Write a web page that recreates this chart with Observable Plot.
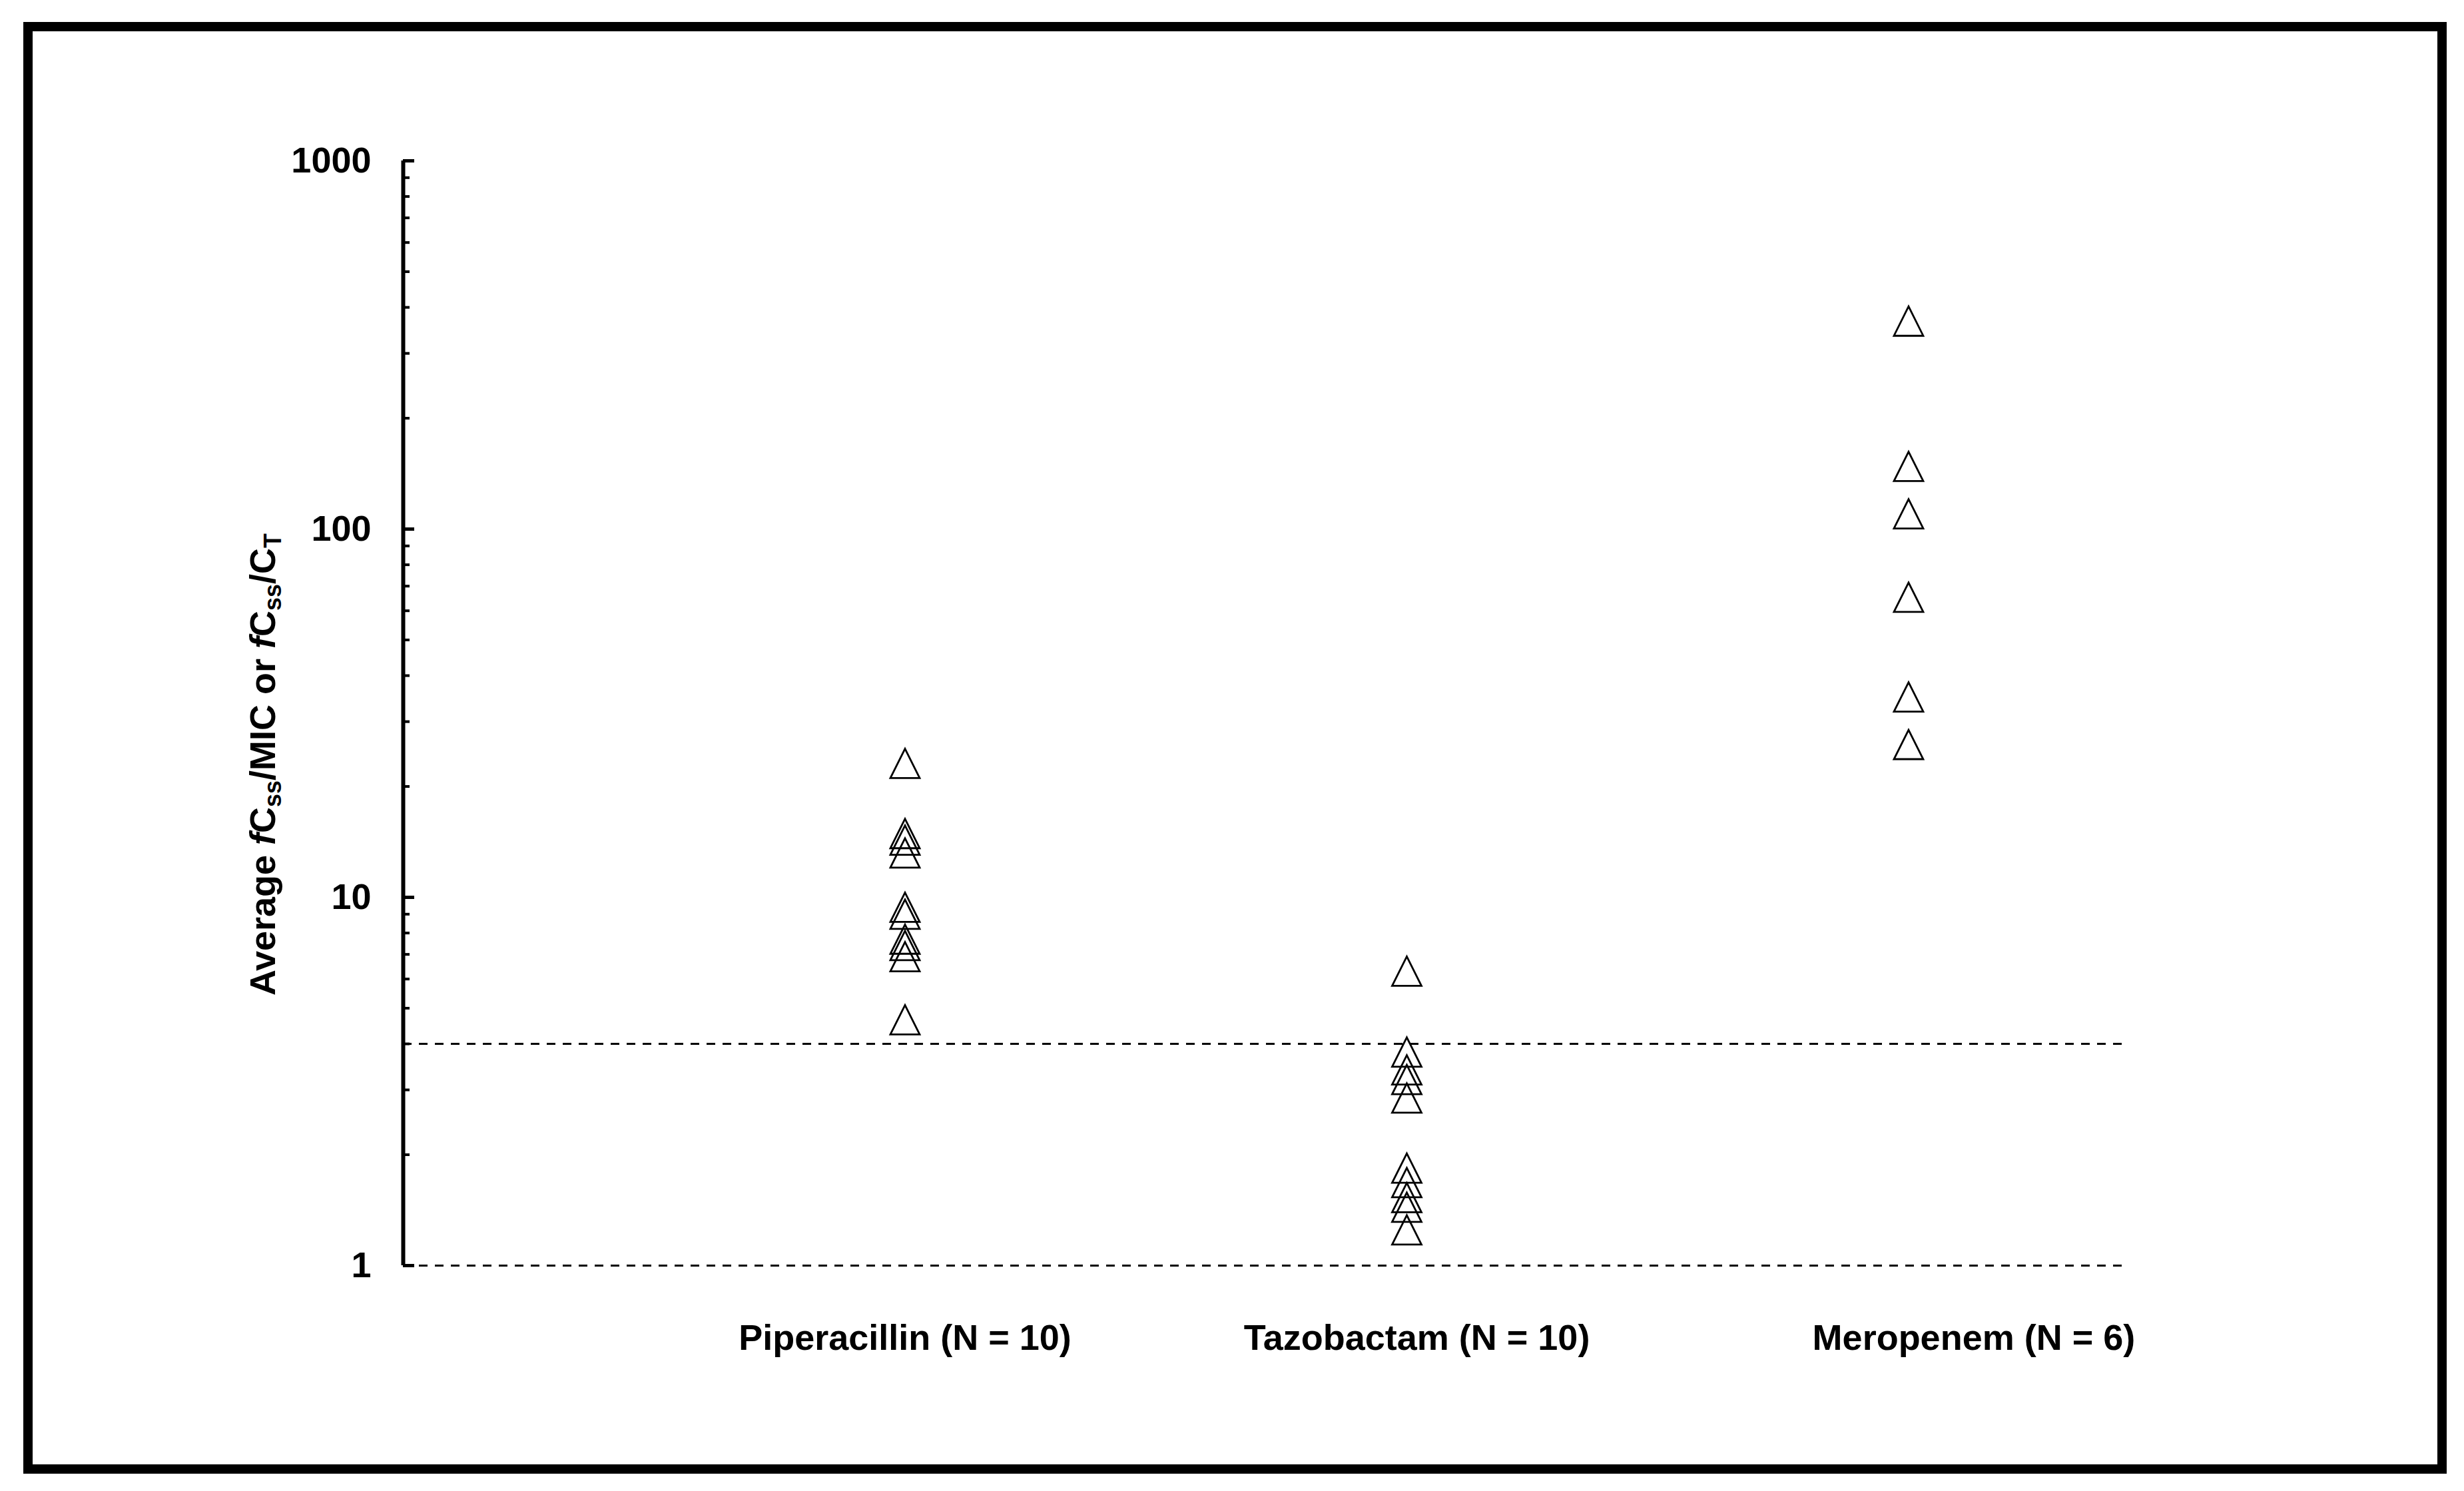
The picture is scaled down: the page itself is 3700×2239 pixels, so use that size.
<!DOCTYPE html>
<html><head><meta charset="utf-8">
<script src="https://cdn.jsdelivr.net/npm/d3@7"></script>
<script src="https://cdn.jsdelivr.net/npm/@observablehq/plot@0.6"></script>
<style>
html,body{margin:0;padding:0;background:#fff;}
#wrap{position:relative;width:3700px;height:2239px;overflow:hidden;background:#fff;}
#chart{position:absolute;left:0;top:0;}
#frame{position:absolute;left:35px;top:33px;width:3639px;height:2180px;border:14px solid #000;box-sizing:border-box;pointer-events:none;}
</style></head><body>
<div id="wrap"><div id="chart"></div><div id="frame"></div></div>
<script>
// ---- data ----
const drugs = ["Piperacillin", "Tazobactam", "Meropenem"];
const counts = [10, 10, 6];
const piperacillin = [23.1, 14.9, 14.3, 13.2, 9.4, 9.0, 7.7, 7.4, 6.9, 4.65];
const tazobactam = [6.3, 3.8, 3.4, 3.2, 2.85, 1.84, 1.68, 1.53, 1.44, 1.25];
const meropenem = [367, 148, 110, 65.3, 35, 26];
const thresholds = [1, 4];
const yTicks = [1, 10, 100, 1000];
const labelAt = [1, 2.02, 3.13]; // category-axis position of each label

const series = [piperacillin, tazobactam, meropenem];
const points = series.flatMap((vals, i) => vals.map(v => ({drug: drugs[i], pos: i + 1, value: v})));
const categoryLabels = drugs.map((d, i) => `${d} (N = ${counts[i]})`);
const minorTicks = [1, 10, 100].flatMap(d => [2,3,4,5,6,7,8,9].map(k => d * k));

// open triangle, as wide as it is tall, centred on the value
const triangle = {
  draw(ctx, size) {
    const r = Math.sqrt(size / Math.PI);
    ctx.moveTo(0, -r);
    ctx.lineTo(r, r);
    ctx.lineTo(-r, r);
    ctx.closePath();
  }
};

const W = 3700, H = 2239, mL = 605, mR = 503, mT = 241, mB = 339;
const inner = W - mL - mR;
const FONT = "'Liberation Sans', Arial, sans-serif";

const chart = Plot.plot({
  width: W, height: H,
  marginLeft: mL, marginRight: mR, marginTop: mT, marginBottom: mB,
  style: {fontFamily: FONT, background: "#fff", color: "#000"},
  x: {type: "linear", domain: [0, 3.44], axis: null},
  y: {type: "log", domain: [1, 1000]},
  marks: [
    Plot.ruleY(thresholds, {stroke: "#000", strokeWidth: 3, strokeDasharray: "13,11"}),
    Plot.tickY(minorTicks, {y: d => d, insetRight: inner - 10, stroke: "#000", strokeWidth: 4}),
    Plot.tickY(yTicks, {y: d => d, insetRight: inner - 17, stroke: "#000", strokeWidth: 5}),
    Plot.ruleX([0], {y1: 1, y2: 1000, stroke: "#000", strokeWidth: 6}),
    Plot.axisY({ticks: yTicks, tickSize: 0, tickPadding: 48, tickFormat: d => String(d),
                fontSize: 54, fontWeight: "bold", label: null}),
    Plot.dot(points, {x: "pos", y: "value", symbol: triangle, r: 22,
                      stroke: "#000", strokeWidth: 2.8, fill: "none"}),
    Plot.text(categoryLabels, {x: (d, i) => labelAt[i], text: d => d, frameAnchor: "bottom",
                               lineAnchor: "bottom", dy: 126, fontSize: 54, fontWeight: "bold", fill: "#000"})
  ]
});
document.getElementById("chart").appendChild(chart);

// y-axis title with italic f and subscripts
const t = d3.select(chart).append("text")
  .attr("transform", "translate(413,1148) rotate(-90)")
  .attr("text-anchor", "middle")
  .attr("font-family", FONT)
  .attr("font-size", 54)
  .attr("font-weight", "bold")
  .attr("fill", "#000");
const parts = [
  {s: "Average "}, {s: "f", it: true}, {s: "C"}, {s: "ss", sub: true},
  {s: "/MIC or "}, {s: "f", it: true}, {s: "C"}, {s: "ss", sub: true},
  {s: "/C"}, {s: "T", sub: true}
];
let shifted = false;
for (const p of parts) {
  const ts = t.append("tspan").text(p.s);
  if (p.it) ts.attr("font-style", "italic");
  if (p.sub && !shifted) { ts.attr("font-size", 36).attr("dy", 9); shifted = true; }
  else if (p.sub) ts.attr("font-size", 36);
  else if (shifted) { ts.attr("dy", -9); shifted = false; }
}
</script>
</body></html>
